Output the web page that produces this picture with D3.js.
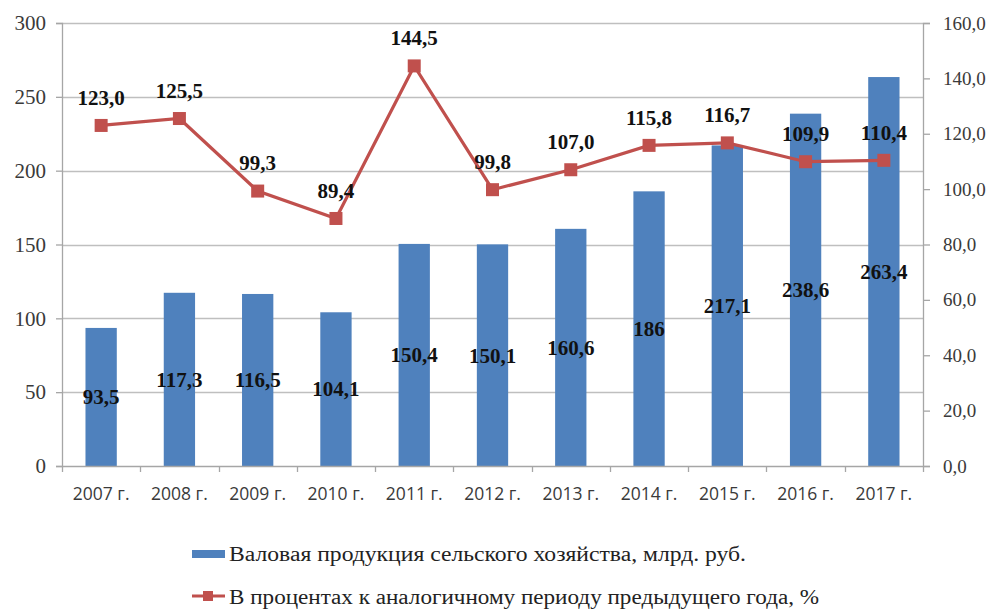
<!DOCTYPE html>
<html><head><meta charset="utf-8">
<script src="https://cdn.jsdelivr.net/npm/d3@7"></script>
<style>body{margin:0;background:#fff;}svg{display:block;} .serif{font-family:"Liberation Serif","DejaVu Serif","Times New Roman",serif;}</style>
</head><body>
<svg id="c" width="997" height="609"></svg>
<script>
const years = ["2007 г.","2008 г.","2009 г.","2010 г.","2011 г.","2012 г.","2013 г.","2014 г.","2015 г.","2016 г.","2017 г."];
const production = [93.5,117.3,116.5,104.1,150.4,150.1,160.6,186,217.1,238.6,263.4];
const productionLabels = ["93,5","117,3","116,5","104,1","150,4","150,1","160,6","186","217,1","238,6","263,4"];
const percent = [123.0,125.5,99.3,89.4,144.5,99.8,107.0,115.8,116.7,109.9,110.4];
const percentLabels = ["123,0","125,5","99,3","89,4","144,5","99,8","107,0","115,8","116,7","109,9","110,4"];
const leftTicks = [0,50,100,150,200,250,300];
const rightTicks = [0,20,40,60,80,100,120,140,160];
const rightTickLabels = ["0,0","20,0","40,0","60,0","80,0","100,0","120,0","140,0","160,0"];
const legendNames = ["Валовая продукция сельского хозяйства, млрд. руб.","В процентах к аналогичному периоду предыдущего года, %"];

const svg = d3.select("#c");
const L = 62, R = 923, T = 23, B = 466;
const x = d3.scaleBand().domain(years).range([L, R]).paddingInner(0.6).paddingOuter(0.3);
const yL = d3.scaleLinear().domain([0,300]).range([B, T]);
const yR = d3.scaleLinear().domain([0,160]).range([B, T]);
const gridCol = "#bfbfbf", axisCol = "#a6a6a6", blue = "#4F81BD", red = "#C0504D";

// gridlines
svg.append("g").selectAll("line").data(leftTicks.filter(d => d > 0)).join("line")
  .attr("x1", L).attr("x2", R).attr("y1", d => Math.round(yL(d)) + 0.5).attr("y2", d => Math.round(yL(d)) + 0.5)
  .attr("stroke", gridCol).attr("stroke-width", 1.3);

// left axis
const gL = svg.append("g").attr("transform", `translate(${L},0)`)
  .call(d3.axisLeft(yL).tickValues(leftTicks).tickSize(6).tickPadding(10));
gL.attr("font-family", null).attr("font-size", null);
gL.select(".domain").attr("stroke", axisCol).attr("stroke-width", 1.3);
gL.selectAll(".tick line").attr("stroke", axisCol).attr("stroke-width", 1.3);
gL.selectAll(".tick text").attr("class", "serif").style("font-size", "21px").attr("fill", "#3a3a3a");

// right axis
const gR = svg.append("g").attr("transform", `translate(${R},0)`)
  .call(d3.axisRight(yR).tickValues(rightTicks).tickFormat((d, i) => rightTickLabels[i]).tickSize(7).tickPadding(13));
gR.attr("font-family", null).attr("font-size", null);
gR.select(".domain").attr("stroke", axisCol).attr("stroke-width", 1.3);
gR.selectAll(".tick line").attr("stroke", axisCol).attr("stroke-width", 1.3);
gR.selectAll(".tick text").attr("class", "serif").style("font-size", "19px").attr("fill", "#3a3a3a");

// bars
svg.append("g").selectAll("rect").data(production).join("rect")
  .attr("x", (d, i) => x(years[i])).attr("width", x.bandwidth())
  .attr("y", d => yL(d)).attr("height", d => B - yL(d))
  .attr("fill", blue);

// x axis
const gX = svg.append("g").attr("transform", `translate(0,${B})`)
  .call(d3.axisBottom(x).tickSize(0).tickPadding(22));
gX.select(".domain").attr("stroke", axisCol).attr("stroke-width", 1.3);
gX.selectAll(".tick text").attr("font-family", "'Open Sans',sans-serif").attr("font-size", 17.5).attr("fill", "#3a3a3a");
const step = x.step();
svg.append("g").selectAll("line").data(d3.range(years.length + 1)).join("line")
  .attr("x1", i => Math.round(L + i * step) + 0.5).attr("x2", i => Math.round(L + i * step) + 0.5)
  .attr("y1", B).attr("y2", B + 6).attr("stroke", axisCol).attr("stroke-width", 1.3);

// bar labels
svg.append("g").selectAll("text").data(production).join("text")
  .attr("class", "serif")
  .attr("x", (d, i) => x(years[i]) + x.bandwidth() / 2)
  .attr("y", d => (yL(d) + B) / 2)
  .attr("dy", "0.35em").attr("text-anchor", "middle")
  .style("font-weight", "bold").style("font-size", "21px").attr("fill", "#111")
  .text((d, i) => productionLabels[i]);

// line
const cx = i => x(years[i]) + x.bandwidth() / 2;
svg.append("path").datum(percent)
  .attr("d", d3.line().x((d, i) => cx(i)).y(d => yR(d)))
  .attr("fill", "none").attr("stroke", red).attr("stroke-width", 3.2);
svg.append("g").selectAll("rect").data(percent).join("rect")
  .attr("x", (d, i) => cx(i) - 6.5).attr("y", d => yR(d) - 6.5)
  .attr("width", 13).attr("height", 13).attr("fill", red);

// line labels
svg.append("g").selectAll("text").data(percent).join("text")
  .attr("class", "serif")
  .attr("x", (d, i) => cx(i)).attr("y", d => yR(d) - 28)
  .attr("dy", "0.35em").attr("text-anchor", "middle")
  .style("font-weight", "bold").style("font-size", "21px").attr("fill", "#111")
  .text((d, i) => percentLabels[i]);

// legend
const lg = svg.append("g");
lg.append("rect").attr("x", 192).attr("y", 550).attr("width", 33).attr("height", 8).attr("fill", blue);
lg.append("line").attr("x1", 192).attr("x2", 225).attr("y1", 596).attr("y2", 596).attr("stroke", red).attr("stroke-width", 3.2);
lg.append("rect").attr("x", 203).attr("y", 591).attr("width", 10).attr("height", 10).attr("fill", red);
lg.append("text").attr("class", "serif").attr("x", 229).attr("y", 554).attr("dy", "0.35em")
  .style("font-size", "20px").attr("fill", "#222")
  .attr("textLength", 517).attr("lengthAdjust", "spacingAndGlyphs").text(legendNames[0]);
lg.append("text").attr("class", "serif").attr("x", 229).attr("y", 597).attr("dy", "0.35em")
  .style("font-size", "20px").attr("fill", "#222")
  .attr("textLength", 590).attr("lengthAdjust", "spacingAndGlyphs").text(legendNames[1]);
</script>
</body></html>
